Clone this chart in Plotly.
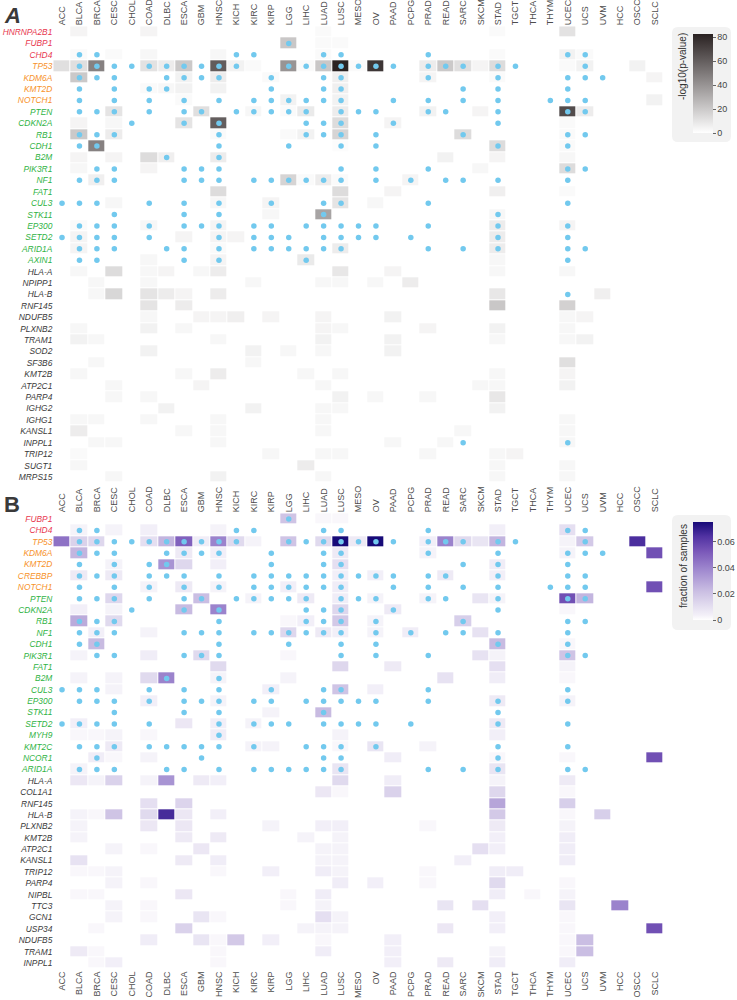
import numpy as np
import plotly.graph_objects as go

CANCERS = ["ACC", "BLCA", "BRCA", "CESC", "CHOL", "COAD", "DLBC", "ESCA", "GBM", "HNSC",
           "KICH", "KIRC", "KIRP", "LGG", "LIHC", "LUAD", "LUSC", "MESO", "OV", "PAAD",
           "PCPG", "PRAD", "READ", "SARC", "SKCM", "STAD", "TGCT", "THCA", "THYM", "UCEC",
           "UCS", "UVM", "HCC", "OSCC", "SCLC"]

# ---------------- Panel A : -log10(p-value) ----------------
GENES_A = ["HNRNPA2B1", "FUBP1", "CHD4", "TP53", "KDM6A", "KMT2D", "NOTCH1", "PTEN", "CDKN2A",
           "RB1", "CDH1", "B2M", "PIK3R1", "NF1", "FAT1", "CUL3", "STK11", "EP300", "SETD2",
           "ARID1A", "AXIN1", "HLA-A", "NPIPP1", "HLA-B", "RNF145", "NDUFB5", "PLXNB2", "TRAM1",
           "SOD2", "SF3B6", "KMT2B", "ATP2C1", "PARP4", "IGHG2", "IGHG1", "KANSL1", "INPPL1",
           "TRIP12", "SUGT1", "MRPS15"]
RED_A = ["HNRNPA2B1", "FUBP1", "CHD4"]
ORANGE_A = ["TP53", "KDM6A", "KMT2D", "NOTCH1"]
GREEN_A = ["PTEN", "CDKN2A", "RB1", "CDH1", "B2M", "PIK3R1", "NF1", "FAT1", "CUL3", "STK11",
           "EP300", "SETD2", "ARID1A", "AXIN1"]

A_VALUES = {
    "HNRNPA2B1": "BLCA:4 COAD:4 LUAD:2 STAD:2 UCEC:11",
    "FUBP1": "LGG:21 LUAD:2 LUSC:2",
    "CHD4": "BLCA:2 CESC:2 COAD:3 HNSC:3 LUAD:2 STAD:2 UCEC:5 UCS:2",
    "TP53": "ACC:12 BLCA:12 BRCA:47 COAD:11 DLBC:7 ESCA:20 HNSC:61 KICH:5 KIRC:2 LGG:40 LIHC:2 "
            "LUAD:21 LUSC:82 MESO:2 OV:75 PRAD:7 READ:20 SARC:12 SKCM:4 STAD:13 UCEC:2 UCS:5 OSCC:5",
    "KDM6A": "BLCA:20 ESCA:5 HNSC:7 LUSC:6 PRAD:4 STAD:2 SCLC:4 KIRP:2",
    "KMT2D": "ESCA:5 HNSC:5 DLBC:3 LUSC:6 COAD:2",
    "NOTCH1": "LGG:5 LUSC:5 ESCA:2 SCLC:5",
    "PTEN": "CESC:10 GBM:12 KIRC:3 LIHC:8 LUSC:7 PRAD:5 SKCM:4 UCS:7 UCEC:67 LGG:2",
    "CDKN2A": "BLCA:4 CESC:3 ESCA:10 HNSC:60 LUSC:13 PAAD:4 UCEC:2",
    "RB1": "BLCA:20 CESC:7 LGG:2 LIHC:5 LUSC:16 SARC:13 UCEC:2 HNSC:2",
    "CDH1": "BRCA:47 STAD:13 UCEC:2 LUSC:1",
    "B2M": "BLCA:4 CESC:4 COAD:13 DLBC:6 HNSC:7 READ:5 STAD:4 UCEC:3",
    "PIK3R1": "BLCA:3 COAD:4 UCEC:13 SKCM:3",
    "NF1": "BRCA:6 LGG:16 LUAD:7 PCPG:4 LIHC:2 LUSC:2",
    "FAT1": "HNSC:13 LUSC:13 PAAD:4 STAD:6 UCEC:2",
    "CUL3": "CESC:3 HNSC:3 KIRP:4 LUSC:10 OV:3",
    "STK11": "LUAD:34 KIRP:3 STAD:3",
    "EP300": "COAD:3 HNSC:4 BLCA:2 STAD:7 UCEC:4",
    "SETD2": "BLCA:4 ESCA:4 HNSC:4 KICH:4 STAD:7",
    "ARID1A": "BLCA:4 LUSC:7 STAD:7 HNSC:2",
    "AXIN1": "COAD:3 HNSC:4 LIHC:8 STAD:3",
    "HLA-A": "BLCA:3 CESC:13 COAD:3 DLBC:4 GBM:3 HNSC:7 LUSC:9 PAAD:4 STAD:3 UCEC:3",
    "NPIPP1": "BRCA:3 COAD:3 KIRC:3 LUAD:3 LUSC:3 OV:3 PCPG:7",
    "HLA-B": "BRCA:3 CESC:15 COAD:10 DLBC:7 ESCA:4 HNSC:7 STAD:9 UVM:6",
    "RNF145": "COAD:10 ESCA:7 STAD:21 UCEC:17",
    "NDUFB5": "COAD:3 GBM:4 HNSC:4 KICH:6 KIRP:4 LUAD:4 PAAD:5 UCEC:3 UCS:4",
    "PLXNB2": "BLCA:3 COAD:5 ESCA:3 LUAD:4 LUSC:3 PRAD:4 STAD:5 UCEC:3",
    "TRAM1": "BLCA:5 BRCA:3 HNSC:3 LUAD:5 PAAD:5 STAD:3 UCEC:3 UCS:5",
    "SOD2": "COAD:5 KIRC:5 LGG:3 LUAD:3 PAAD:5",
    "SF3B6": "BRCA:3 KIRC:3 UCEC:12",
    "KMT2B": "BLCA:3 ESCA:3 HNSC:7 LIHC:3 LUSC:3 STAD:3 UCEC:4",
    "ATP2C1": "CESC:3 GBM:4 LUAD:3 SKCM:3 STAD:3 UCEC:5",
    "PARP4": "CESC:3 COAD:3 LUSC:5 OV:3 PRAD:3 STAD:9",
    "IGHG2": "DLBC:5 KIRC:5 LUAD:3 LUSC:3 STAD:5",
    "IGHG1": "BLCA:3 BRCA:3 COAD:3 HNSC:3 LUAD:3 UCEC:3",
    "KANSL1": "BLCA:7 ESCA:3 HNSC:3 LUAD:3 SARC:3 UCEC:3",
    "INPPL1": "BRCA:3 CESC:3 HNSC:3 PAAD:3 READ:3 UCEC:3",
    "TRIP12": "BLCA:2 KIRP:3 LUAD:3 LUSC:3 PRAD:3 STAD:3 TGCT:4",
    "SUGT1": "BLCA:3 LIHC:7 STAD:3 UCEC:3",
    "MRPS15": "CESC:3 HNSC:5 LUAD:3 STAD:3 UCEC:3",
}

A_DOTS = {
    "FUBP1": "LGG",
    "CHD4": "BLCA BRCA KICH KIRC LUAD LUSC PRAD UCEC UCS",
    "TP53": "BLCA BRCA CESC CHOL COAD DLBC ESCA GBM HNSC KICH LGG LIHC LUAD LUSC MESO OV PAAD "
            "PRAD READ SARC STAD TGCT UCS",
    "KDM6A": "BLCA BRCA CESC DLBC ESCA GBM HNSC KIRP LUAD LUSC PRAD STAD UCEC UCS UVM",
    "KMT2D": "BLCA CESC COAD DLBC KIRP LUAD LUSC SARC STAD UCEC",
    "NOTCH1": "BLCA CESC COAD ESCA HNSC KIRC KIRP LGG LIHC LUAD LUSC PAAD PRAD SARC STAD THYM UCEC UCS",
    "PTEN": "BLCA BRCA CESC COAD ESCA GBM KICH KIRC KIRP LGG LIHC LUSC MESO OV PRAD READ STAD UCEC UCS",
    "CDKN2A": "CHOL ESCA HNSC LIHC LUAD LUSC PAAD STAD",
    "RB1": "BLCA BRCA CESC HNSC LIHC LUAD LUSC OV SARC UCEC UCS",
    "CDH1": "BLCA BRCA HNSC LGG LUSC OV STAD UCEC",
    "B2M": "DLBC HNSC",
    "PIK3R1": "BRCA CESC ESCA GBM HNSC LUSC OV PRAD UCEC UCS",
    "NF1": "BLCA BRCA CESC ESCA GBM HNSC KIRC KIRP LGG LIHC LUAD LUSC OV PCPG READ SARC STAD UCEC",
    "CUL3": "ACC BLCA BRCA COAD ESCA HNSC KIRP LUAD LUSC PRAD UCEC",
    "STK11": "CESC ESCA HNSC LUAD STAD",
    "EP300": "BLCA BRCA CESC COAD ESCA GBM HNSC KIRC KIRP LIHC LUAD LUSC MESO OV PRAD STAD UCEC",
    "SETD2": "ACC BLCA BRCA CESC COAD HNSC KIRC KIRP LGG LUAD LUSC MESO OV PCPG STAD UCEC",
    "ARID1A": "BLCA BRCA CESC DLBC ESCA HNSC KIRC KIRP LGG LIHC LUAD LUSC PRAD SARC STAD UCEC UCS",
    "AXIN1": "BLCA BRCA ESCA HNSC LIHC UCEC",
    "HLA-B": "UCEC",
    "INPPL1": "SARC UCEC",
}

# ---------------- Panel B : fraction of samples ----------------
GENES_B = ["FUBP1", "CHD4", "TP53", "KDM6A", "KMT2D", "CREBBP", "NOTCH1", "PTEN", "CDKN2A",
           "RB1", "NF1", "CDH1", "PIK3R1", "FAT1", "B2M", "CUL3", "EP300", "STK11", "SETD2",
           "MYH9", "KMT2C", "NCOR1", "ARID1A", "HLA-A", "COL1A1", "RNF145", "HLA-B", "PLXNB2",
           "KMT2B", "ATP2C1", "KANSL1", "TRIP12", "PARP4", "NIPBL", "TTC3", "GCN1", "USP34",
           "NDUFB5", "TRAM1", "INPPL1"]
RED_B = ["FUBP1", "CHD4"]
ORANGE_B = ["TP53", "KDM6A", "KMT2D", "CREBBP", "NOTCH1"]
GREEN_B = ["PTEN", "CDKN2A", "RB1", "NF1", "CDH1", "PIK3R1", "FAT1", "B2M", "CUL3", "EP300",
           "STK11", "SETD2", "MYH9", "KMT2C", "NCOR1", "ARID1A"]

B_VALUES = {
    "FUBP1": "LGG:0.02 LUAD:0.002 LUSC:0.002",
    "CHD4": "BLCA:0.003 CESC:0.003 COAD:0.004 HNSC:0.003 STAD:0.004 UCEC:0.01",
    "TP53": "ACC:0.045 BLCA:0.015 BRCA:0.013 COAD:0.01 DLBC:0.025 ESCA:0.05 GBM:0.005 HNSC:0.04 "
            "KICH:0.012 KIRC:0.003 LGG:0.02 LUAD:0.012 LUSC:0.075 MESO:0.006 OV:0.075 PRAD:0.004 "
            "READ:0.04 SARC:0.012 SKCM:0.008 STAD:0.025 UCEC:0.003 UCS:0.018 OSCC:0.065",
    "KDM6A": "BLCA:0.025 ESCA:0.006 HNSC:0.004 LUSC:0.006 PRAD:0.003 UCEC:0.003 SCLC:0.055",
    "KMT2D": "CESC:0.003 DLBC:0.035 ESCA:0.013 HNSC:0.004 LUSC:0.01 STAD:0.005",
    "CREBBP": "BLCA:0.006 CESC:0.006 LUSC:0.004 OV:0.004 READ:0.006 STAD:0.004",
    "NOTCH1": "COAD:0.003 ESCA:0.006 HNSC:0.003 LGG:0.004 LUSC:0.005 SCLC:0.055",
    "PTEN": "CESC:0.013 GBM:0.022 KIRC:0.003 LIHC:0.006 LUSC:0.005 OV:0.003 PRAD:0.003 SKCM:0.008 "
            "STAD:0.003 UCEC:0.055 UCS:0.025",
    "CDKN2A": "BLCA:0.004 CESC:0.003 ESCA:0.023 HNSC:0.04 LUSC:0.013 PAAD:0.006 UCEC:0.002",
    "RB1": "BLCA:0.028 CESC:0.012 LGG:0.002 LIHC:0.004 LUSC:0.018 OV:0.003 SARC:0.016",
    "NF1": "BRCA:0.004 COAD:0.003 LGG:0.013 LUAD:0.006 LUSC:0.004 OV:0.003 PCPG:0.005 SKCM:0.009",
    "CDH1": "BRCA:0.023 STAD:0.023 UCEC:0.002",
    "PIK3R1": "BLCA:0.003 COAD:0.005 GBM:0.012 LGG:0.002 SKCM:0.009 STAD:0.003 UCEC:0.02",
    "FAT1": "HNSC:0.012 LUSC:0.013 PAAD:0.006 STAD:0.01 UCEC:0.003",
    "B2M": "BLCA:0.003 CESC:0.003 COAD:0.012 DLBC:0.04 HNSC:0.003 LGG:0.003 READ:0.009 STAD:0.005 UCEC:0.002",
    "CUL3": "CESC:0.003 KIRP:0.004 LUSC:0.02 OV:0.004",
    "EP300": "COAD:0.004 HNSC:0.003 STAD:0.006 UCEC:0.003",
    "STK11": "KIRP:0.003 LUAD:0.023",
    "SETD2": "BLCA:0.004 ESCA:0.007 HNSC:0.004 KIRC:0.003 STAD:0.006",
    "MYH9": "BLCA:0.002 BRCA:0.002 CESC:0.003 COAD:0.002 HNSC:0.005 LUSC:0.003 STAD:0.004",
    "KMT2C": "CESC:0.006 KIRC:0.003 KIRP:0.003 OV:0.008 PRAD:0.003 LUSC:0.002",
    "NCOR1": "BRCA:0.005 CESC:0.002 COAD:0.003 PAAD:0.005 STAD:0.002 UCEC:0.002 SCLC:0.055",
    "ARID1A": "BLCA:0.003 LUSC:0.008 STAD:0.008",
    "HLA-A": "BLCA:0.007 BRCA:0.003 CESC:0.015 COAD:0.003 DLBC:0.035 GBM:0.006 HNSC:0.004 LUSC:0.012 "
             "PAAD:0.005 STAD:0.003 UCEC:0.006",
    "COL1A1": "LUAD:0.007 LUSC:0.002 PAAD:0.015 STAD:0.013 UCEC:0.002",
    "RNF145": "COAD:0.01 ESCA:0.014 STAD:0.03 UCEC:0.016",
    "HLA-B": "BLCA:0.003 BRCA:0.002 CESC:0.02 COAD:0.012 DLBC:0.066 ESCA:0.007 HNSC:0.004 STAD:0.018 "
             "UCEC:0.002 UVM:0.016",
    "PLXNB2": "BLCA:0.003 COAD:0.007 ESCA:0.007 KIRP:0.003 LUAD:0.004 LUSC:0.004 PRAD:0.002 STAD:0.006 UCEC:0.003",
    "KMT2B": "BLCA:0.003 ESCA:0.006 HNSC:0.006 LIHC:0.003 LUSC:0.003 STAD:0.004 UCEC:0.005",
    "ATP2C1": "CESC:0.003 COAD:0.002 GBM:0.007 LUAD:0.003 LUSC:0.003 SKCM:0.01 STAD:0.004 UCEC:0.005",
    "KANSL1": "BLCA:0.009 ESCA:0.006 HNSC:0.005 LUAD:0.003 LUSC:0.003 SARC:0.004 UCEC:0.005",
    "TRIP12": "BLCA:0.002 BRCA:0.002 CESC:0.003 HNSC:0.002 KIRP:0.004 LUAD:0.005 LUSC:0.003 PRAD:0.002 "
              "STAD:0.005 TGCT:0.005",
    "PARP4": "CESC:0.003 COAD:0.002 LUSC:0.005 OV:0.004 PRAD:0.002 STAD:0.012 UCEC:0.002",
    "NIPBL": "BLCA:0.002 BRCA:0.002 ESCA:0.007 LGG:0.002 LUAD:0.005 STAD:0.005 THCA:0.002 UCEC:0.003",
    "TTC3": "CESC:0.003 COAD:0.002 LGG:0.002 LUAD:0.003 READ:0.008 SKCM:0.01 UCEC:0.008 HCC:0.04",
    "GCN1": "CESC:0.003 COAD:0.002 GBM:0.008 HNSC:0.002 LUAD:0.01 LUSC:0.003 STAD:0.004 UCEC:0.002",
    "USP34": "BRCA:0.002 ESCA:0.015 LIHC:0.003 LUAD:0.003 LUSC:0.003 READ:0.007 STAD:0.004 UCEC:0.002 SCLC:0.055",
    "NDUFB5": "COAD:0.005 GBM:0.008 HNSC:0.002 KICH:0.018 KIRP:0.004 LUAD:0.002 PAAD:0.004 UCEC:0.002 UCS:0.022",
    "TRAM1": "BLCA:0.006 BRCA:0.002 HNSC:0.002 LUAD:0.005 PAAD:0.004 STAD:0.003 UCEC:0.002 UCS:0.022",
    "INPPL1": "BRCA:0.002 CESC:0.004 HNSC:0.002 PAAD:0.004 READ:0.006 STAD:0.005 UCEC:0.005",
}

B_DOTS = {
    "FUBP1": "LGG",
    "CHD4": "BLCA BRCA KICH KIRC LUAD LUSC PRAD UCEC UCS",
    "TP53": "BLCA BRCA CESC CHOL COAD DLBC ESCA GBM HNSC KICH LGG LIHC LUAD LUSC MESO OV PAAD "
            "PRAD READ SARC STAD TGCT UCS",
    "KDM6A": "BLCA BRCA CESC DLBC ESCA GBM HNSC KIRP LUAD LUSC PRAD STAD UCEC UCS UVM",
    "KMT2D": "BLCA CESC COAD DLBC KIRP LUAD LUSC SARC STAD UCEC",
    "CREBBP": "BLCA BRCA CESC COAD DLBC ESCA HNSC KIRC KIRP LGG LIHC LUAD LUSC MESO OV PAAD PRAD READ STAD UCEC UCS",
    "NOTCH1": "BLCA CESC COAD ESCA HNSC KIRC KIRP LGG LIHC LUAD LUSC PAAD PRAD SARC STAD THYM UCEC UCS",
    "PTEN": "BLCA BRCA CESC COAD ESCA GBM KICH KIRC KIRP LGG LIHC LUSC MESO OV PRAD READ STAD UCEC UCS",
    "CDKN2A": "CHOL ESCA HNSC LIHC LUAD LUSC PAAD STAD",
    "RB1": "BLCA BRCA CESC HNSC LIHC LUAD LUSC OV SARC UCEC UCS",
    "NF1": "BLCA BRCA CESC ESCA GBM HNSC KIRC KIRP LGG LIHC LUAD LUSC OV PCPG READ SARC STAD UCEC",
    "CDH1": "BLCA BRCA HNSC LGG LUSC OV STAD UCEC",
    "PIK3R1": "BRCA CESC ESCA GBM HNSC LUSC OV PRAD UCEC UCS",
    "B2M": "DLBC HNSC",
    "CUL3": "ACC BLCA BRCA COAD ESCA HNSC KIRP LUAD LUSC PRAD UCEC",
    "EP300": "BLCA BRCA CESC COAD ESCA GBM HNSC KIRC KIRP LIHC LUAD LUSC MESO OV PRAD STAD UCEC",
    "STK11": "CESC ESCA HNSC LUAD STAD",
    "SETD2": "ACC BLCA BRCA CESC COAD HNSC KIRC KIRP LGG LUAD LUSC MESO OV PCPG STAD UCEC",
    "MYH9": "HNSC",
    "KMT2C": "BLCA BRCA CESC COAD DLBC ESCA GBM HNSC KIRC LIHC LUAD LUSC OV STAD UCEC",
    "NCOR1": "BRCA GBM LUAD LUSC STAD",
    "ARID1A": "BLCA BRCA CESC DLBC ESCA HNSC KIRC KIRP LGG LIHC LUAD LUSC PRAD SARC STAD UCEC UCS",
}

COL_RED, COL_ORANGE, COL_GREEN, COL_DARK = "#e8384f", "#f7922a", "#2fb344", "#3a3a3a"
DOT_COLOR = "#72c9ee"
W, H = 737, 1000


def matrix(genes, values):
    z = np.zeros((len(genes), len(CANCERS)))
    for g, s in values.items():
        for tok in s.split():
            c, v = tok.split(":")
            z[genes.index(g), CANCERS.index(c)] = float(v)
    return z


def dots(dmap):
    xs, ys = [], []
    for g, s in dmap.items():
        for c in s.split():
            xs.append(c)
            ys.append(g)
    return xs, ys


def label(g, red, orange, green):
    col = COL_RED if g in red else COL_ORANGE if g in orange else COL_GREEN if g in green else COL_DARK
    return f'<span style="color:{col}"><i>{g}</i></span>'


def rrect(x0, y0, x1, y1, r=6):
    X = lambda v: v / W
    Y = lambda v: 1 - v / H
    return (f"M {X(x0 + r)},{Y(y0)} L {X(x1 - r)},{Y(y0)} Q {X(x1)},{Y(y0)} {X(x1)},{Y(y0 + r)} "
            f"L {X(x1)},{Y(y1 - r)} Q {X(x1)},{Y(y1)} {X(x1 - r)},{Y(y1)} "
            f"L {X(x0 + r)},{Y(y1)} Q {X(x0)},{Y(y1)} {X(x0)},{Y(y1 - r)} "
            f"L {X(x0)},{Y(y0 + r)} Q {X(x0)},{Y(y0)} {X(x0 + r)},{Y(y0)} Z")


zA = matrix(GENES_A, A_VALUES)
zB = matrix(GENES_B, B_VALUES)
dAx, dAy = dots(A_DOTS)
dBx, dBy = dots(B_DOTS)

GREY_SCALE = [[0, "#ffffff"], [1, "#2a2222"]]
PURPLE_SCALE = [[0, "#ffffff"], [0.05, "#f3f0f8"], [0.15, "#e2dcef"], [0.3, "#c9bde2"],
                [0.5, "#a28cd0"], [0.7, "#7a58b9"], [0.85, "#5233a3"], [1.0, "#170a78"]]

cb_font = dict(family="Liberation Sans, Arial, sans-serif", size=9, color="#444")

fig = go.Figure()
fig.add_trace(go.Heatmap(
    z=zA, x=CANCERS, y=GENES_A, xaxis="x", yaxis="y", zmin=0, zmax=82.5, xgap=1, ygap=1,
    colorscale=GREY_SCALE, hoverinfo="skip",
    colorbar=dict(x=693 / W, xanchor="left", xpad=0, y=1 - 34 / H, yanchor="top", ypad=0,
                  len=99, lenmode="pixels", thickness=20, outlinewidth=0,
                  tickvals=[0, 20, 40, 60, 80], ticks="outside", ticklen=3, tickcolor="#666",
                  tickfont=cb_font)))
fig.add_trace(go.Scatter(x=dAx, y=dAy, xaxis="x", yaxis="y", mode="markers", hoverinfo="skip",
                         marker=dict(size=5.5, color=DOT_COLOR), showlegend=False))
fig.add_trace(go.Heatmap(
    z=zB, x=CANCERS, y=GENES_B, xaxis="x2", yaxis="y2", zmin=0, zmax=0.075, xgap=1, ygap=1,
    colorscale=PURPLE_SCALE, hoverinfo="skip",
    colorbar=dict(x=693 / W, xanchor="left", xpad=0, y=1 - 522 / H, yanchor="top", ypad=0,
                  len=98, lenmode="pixels", thickness=20, outlinewidth=0,
                  tickvals=[0, 0.02, 0.04, 0.06], ticktext=["0", "0.02", "0.04", "0.06"],
                  ticks="outside", ticklen=3, tickcolor="#666", tickfont=cb_font)))
fig.add_trace(go.Scatter(x=dBx, y=dBy, xaxis="x2", yaxis="y2", mode="markers", hoverinfo="skip",
                         marker=dict(size=5.5, color=DOT_COLOR), showlegend=False))
fig.add_trace(go.Scatter(x=CANCERS, y=[GENES_B[0]] * len(CANCERS), xaxis="x3", yaxis="y2",
                         mode="markers", marker=dict(opacity=0), hoverinfo="skip", showlegend=False))

xdom = [53.3 / W, 663.7 / W]
col_font = dict(family="Liberation Sans, Arial, sans-serif", size=9, color="#4d4d4d")
gene_font = dict(family="Liberation Sans, Arial, sans-serif", size=8.4)
xcommon = dict(type="category", categoryorder="array", categoryarray=CANCERS, range=[-0.5, 34.5],
               tickangle=-90, ticks="", showgrid=False, zeroline=False, showline=False,
               tickfont=col_font, fixedrange=True, automargin=False)
ycommon = dict(type="category", ticks="", showgrid=False, zeroline=False, showline=False,
               tickfont=gene_font, fixedrange=True, automargin=False)

fig.update_layout(
    width=W, height=H, margin=dict(l=0, r=0, t=0, b=0, autoexpand=False),
    paper_bgcolor="white", plot_bgcolor="white", showlegend=False,
    xaxis=dict(domain=xdom, anchor="y", side="top", **xcommon),
    yaxis=dict(domain=[1 - 482.7 / H, 1 - 26.3 / H], anchor="x",
               range=[len(GENES_A) - 0.5, -0.5], categoryorder="array", categoryarray=GENES_A,
               tickvals=GENES_A, ticktext=[label(g, RED_A, ORANGE_A, GREEN_A) for g in GENES_A],
               **ycommon),
    xaxis2=dict(domain=xdom, anchor="y2", side="top", **xcommon),
    yaxis2=dict(domain=[1 - 968.7 / H, 1 - 513.3 / H], anchor="x2",
                range=[len(GENES_B) - 0.5, -0.5], categoryorder="array", categoryarray=GENES_B,
                tickvals=GENES_B, ticktext=[label(g, RED_B, ORANGE_B, GREEN_B) for g in GENES_B],
                **ycommon),
    xaxis3=dict(overlaying="x2", anchor="y2", side="bottom", **xcommon),
    shapes=[
        dict(type="path", xref="paper", yref="paper", path=rrect(672, 27, 731, 142),
             fillcolor="#f2f2f2", line=dict(width=0), layer="below"),
        dict(type="path", xref="paper", yref="paper", path=rrect(672, 515, 731, 630),
             fillcolor="#f2f2f2", line=dict(width=0), layer="below"),
    ],
    annotations=[
        dict(text="<b><i>A</i></b>", x=2 / W, y=1 - 1 / H, xref="paper", yref="paper",
             xanchor="left", yanchor="top", showarrow=False,
             font=dict(family="Liberation Sans, Arial, sans-serif", size=22, color="#3a3a3a")),
        dict(text="<b>B</b>", x=2 / W, y=1 - 490 / H, xref="paper", yref="paper",
             xanchor="left", yanchor="top", showarrow=False,
             font=dict(family="Liberation Sans, Arial, sans-serif", size=22, color="#3a3a3a")),
        dict(text="-log10(p-value)", x=683 / W, y=1 - 67 / H, xref="paper", yref="paper",
             textangle=-90, showarrow=False, xanchor="center", yanchor="middle",
             font=dict(family="Liberation Sans, Arial, sans-serif", size=10, color="#333")),
        dict(text="fraction of samples", x=683 / W, y=1 - 566 / H, xref="paper", yref="paper",
             textangle=-90, showarrow=False, xanchor="center", yanchor="middle",
             font=dict(family="Liberation Sans, Arial, sans-serif", size=10, color="#333")),
    ],
)

fig.write_html("out.html", config={"displayModeBar": False, "staticPlot": True},
               post_script="document.body.style.margin='0';document.body.style.overflow='hidden';")
